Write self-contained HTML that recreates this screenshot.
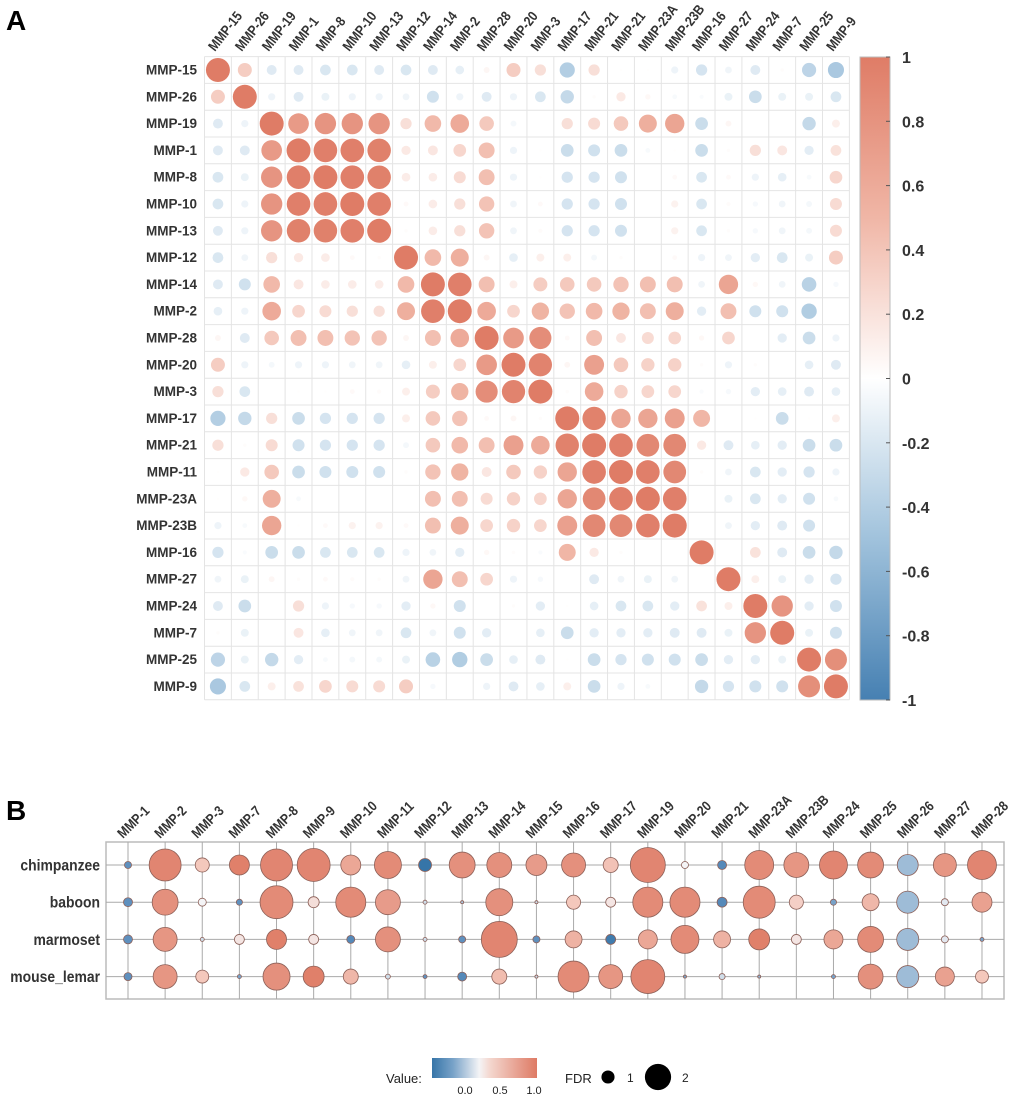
<!DOCTYPE html>
<html><head><meta charset="utf-8"><style>
body{margin:0;background:#fff;}
svg{display:block;font-family:"Liberation Sans Narrow","Liberation Sans",sans-serif;}
</style></head><body>
<svg id="fig" width="1020" height="1098" viewBox="0 0 1020 1098" xmlns="http://www.w3.org/2000/svg">
<text x="6" y="30" font-size="28" font-weight="bold" font-family="Liberation Sans,sans-serif">A</text>
<text x="6" y="820" font-size="28" font-weight="bold" font-family="Liberation Sans,sans-serif">B</text>
<g id="pa"></g>
<g id="cb"></g>
<g id="pb"></g>
<g id="lg"></g>
</svg>
<script>
const genesA = ["MMP-15","MMP-26","MMP-19","MMP-1","MMP-8","MMP-10","MMP-13","MMP-12","MMP-14","MMP-2","MMP-28","MMP-20","MMP-3","MMP-17","MMP-21","MMP-21","MMP-23A","MMP-23B","MMP-16","MMP-27","MMP-24","MMP-7","MMP-25","MMP-9"];
const rowLabelsA = ["MMP-15","MMP-26","MMP-19","MMP-1","MMP-8","MMP-10","MMP-13","MMP-12","MMP-14","MMP-2","MMP-28","MMP-20","MMP-3","MMP-17","MMP-21","MMP-11","MMP-23A","MMP-23B","MMP-16","MMP-27","MMP-24","MMP-7","MMP-25","MMP-9"];
// upper triangle rows (values for columns i+1..23)
const upper = [
[.34,-.17,-.17,-.2,-.2,-.17,-.2,-.17,-.13,.06,.34,.22,-.4,.22,.01,.01,-.09,-.22,-.08,-.17,.02,-.35,-.45],
[-.09,-.17,-.11,-.09,-.09,-.08,-.25,-.09,-.17,-.09,-.2,-.31,.02,.15,.05,-.04,-.03,-.11,-.28,-.11,-.11,-.2],
[.74,.79,.79,.79,.22,.48,.6,.37,-.06,0,.22,.25,.37,.56,.65,-.28,.06,0,0,-.31,.11],
[.97,.97,.96,.15,.17,.28,.44,-.09,.01,-.28,-.25,-.28,-.04,.01,-.28,.02,.22,.17,-.15,.2],
[.97,.96,.13,.13,.25,.44,-.09,.01,-.22,-.22,-.25,0,.04,-.2,.04,-.09,-.13,-.04,.28],
[.97,.04,.13,.22,.41,-.08,.04,-.22,-.22,-.25,0,.09,-.2,.03,-.05,-.08,-.06,.25],
[.02,.13,.22,.41,-.08,.03,-.22,-.22,-.25,0,.09,-.2,.02,-.05,-.08,-.06,.25],
[.48,.56,.06,-.13,.11,.11,-.06,.02,0,.04,-.09,-.08,-.15,-.2,-.11,.34],
[.97,.44,.11,.34,.37,.37,.41,.44,.44,-.08,.65,.05,-.08,-.37,-.05],
[.6,.28,.52,.41,.48,.52,.44,.56,-.15,.44,-.25,-.25,-.41,0],
[.74,.85,.04,.44,.17,.25,.28,.05,.28,0,-.15,-.28,-.09],
[.94,.06,.69,.37,.31,.31,.02,-.09,.02,0,-.13,-.17],
[.02,.6,.31,.28,.28,-.03,-.05,-.15,-.13,-.17,-.13],
[.95,.65,.65,.69,.5,0,.01,-.28,.01,.11],
[.97,.9,.9,.15,-.17,-.13,-.15,-.28,-.28],
[.97,.9,.02,-.08,-.2,-.15,-.22,-.09],
[.97,0,-.11,-.2,-.15,-.25,-.04],
[0,-.08,-.15,-.17,-.25,0],
[0,.2,-.17,-.28,-.31],
[.11,-.11,-.15,-.22],
[.79,-.15,-.25],
[-.11,-.25],
[.84],
[]
];
const cbTicks = [1,0.8,0.6,0.4,0.2,0,-0.2,-0.4,-0.6,-0.8,-1];
const cbTickLabels = ["1","0.8","0.6","0.4","0.2","0","-0.2","-0.4","-0.6","-0.8","-1"];

const genesB = ["MMP-1","MMP-2","MMP-3","MMP-7","MMP-8","MMP-9","MMP-10","MMP-11","MMP-12","MMP-13","MMP-14","MMP-15","MMP-16","MMP-17","MMP-19","MMP-20","MMP-21","MMP-23A","MMP-23B","MMP-24","MMP-25","MMP-26","MMP-27","MMP-28"];
const species = ["chimpanzee","baboon","marmoset","mouse_lemar"];
const valChimp = [-.5,.9,.3,.95,.9,.9,.6,.85,-.9,.8,.8,.7,.8,.35,.9,0,-.6,.85,.75,.9,.85,-.25,.75,.9];
const fdrChimp = [.44,2,.88,1.25,2,2.06,1.25,1.69,.81,1.62,1.56,1.31,1.5,.94,2.19,.44,.56,1.81,1.56,1.75,1.62,1.31,1.44,1.81];
const valBaboon = [-.5,.8,0,-.5,.85,.15,.85,.7,-.1,-.2,.8,-.1,.3,.1,.85,.85,-.6,.85,.25,-.4,.45,-.25,-.05,.65];
const fdrBaboon = [.56,1.62,.5,.38,2.06,.69,1.88,1.56,.25,.19,1.69,.19,.88,.62,1.88,1.88,.62,2,.88,.38,1.06,1.38,.44,1.25];
const valMarmoset = [-.5,.75,-.1,.1,.95,.1,-.6,.8,-.1,-.5,.9,-.5,.5,-.8,.6,.85,.5,.95,.1,.6,.85,-.25,-.05,-.4];
const fdrMarmoset = [.56,1.5,.25,.62,1.25,.62,.5,1.56,.25,.44,2.25,.44,1.06,.62,1.19,1.75,1.06,1.31,.62,1.19,1.62,1.38,.44,.25];
const valLemur = [-.5,.75,.3,-.4,.8,.95,.45,-.1,-.5,-.6,.4,-.1,.85,.75,.9,-.4,-.1,-.3,0,-.4,.8,-.25,.65,.3];
const fdrLemur = [.5,1.5,.81,.25,1.69,1.31,.94,.31,.25,.56,.94,.19,1.94,1.5,2.12,.19,.38,.19,0,.25,1.56,1.38,1.19,.81];
const valuesB = [valChimp,valBaboon,valMarmoset,valLemur];
const fdrB = [fdrChimp,fdrBaboon,fdrMarmoset,fdrLemur];

const NS="http://www.w3.org/2000/svg";
function mk(tag,attrs,parent){const e=document.createElementNS(NS,tag);for(const k in attrs)e.setAttribute(k,attrs[k]);parent.appendChild(e);return e;}
function lerp(a,b,t){return a.map((v,i)=>Math.round(v+(b[i]-v)*t));}
function colorFrom(stops,v){v=Math.max(stops[0][0],Math.min(stops[stops.length-1][0],v));for(let i=0;i<stops.length-1;i++){if(v<=stops[i+1][0]){const t=(v-stops[i][0])/(stops[i+1][0]-stops[i][0]);const c=lerp(stops[i][1],stops[i+1][1],t);return `rgb(${c[0]},${c[1]},${c[2]})`;}}}
const stopsA=[[-1,[70,128,178]],[-0.5,[160,194,220]],[0,[255,255,255]],[0.5,[240,182,166]],[1,[223,124,102]]];
const stopsB=[[-1,[44,110,163]],[-0.5,[95,144,190]],[-0.2,[170,197,220]],[0,[244,244,246]],[0.3,[244,200,188]],[1,[222,122,100]]];

// ---- Panel A ----
const N=24, x0=204.5, y0=56.6, cw=26.87, ch=26.8;
const ax = i => x0 + (i+0.5)*cw;
const ay = i => y0 + (i+0.5)*ch;
const rA = v => 12*Math.sqrt(Math.abs(v));
const M=[];for(let i=0;i<N;i++){M.push(new Array(N).fill(0));M[i][i]=1;}
for(let i=0;i<N;i++)for(let k=0;k<upper[i].length;k++){const j=i+1+k;M[i][j]=upper[i][k];M[j][i]=upper[i][k];}
const pa=document.getElementById('pa');
for(let i=0;i<=N;i++){
  const l1=mk('line',{x1:x0,x2:x0+N*cw,y1:y0+i*ch,y2:y0+i*ch,stroke:'#e4e4e4','stroke-width':1},pa);
  
  
  const l2=mk('line',{y1:y0,y2:y0+N*ch,x1:x0+i*cw,x2:x0+i*cw,stroke:'#e4e4e4','stroke-width':1},pa);
  
  
}
for(let i=0;i<N;i++){
  const t=mk('text',{x:197,y:ay(i)+4.5,'text-anchor':'end','font-size':13.5,'font-weight':'bold',fill:'#333'},pa);
  t.textContent=rowLabelsA[i];
  
  
  const c=mk('text',{x:0,y:0,'font-size':14,'font-weight':'bold',fill:'#333',transform:`translate(${ax(i)-3},52) rotate(-52) scale(0.86,1)`},pa);
  c.textContent=genesA[i];
  
  
  for(let j=0;j<N;j++){
    const v=M[i][j];const r=rA(v);if(r<0.4)continue;
    const ci=mk('circle',{cx:ax(j),cy:ay(i),r:r,fill:colorFrom(stopsA,v)},pa);
    
    
  }
}
// colorbar
const cb=document.getElementById('cb');
const cbx=860,cbw=30,cby0=57,cby1=700;
const cbY = v => cby0 + (1-v)/2*(cby1-cby0);
const defs=mk('defs',{},cb);
const g=mk('linearGradient',{id:'gA',x1:0,y1:0,x2:0,y2:1},defs);
[[0,1],[0.25,0.5],[0.5,0],[0.75,-0.5],[1,-1]].forEach(s=>mk('stop',{offset:s[0],'stop-color':colorFrom(stopsA,s[1])},g));
const cr=mk('rect',{x:cbx,y:cby0,width:cbw,height:cby1-cby0,fill:'url(#gA)',stroke:'#bbb','stroke-width':1},cb);


cbTicks.forEach((v,k)=>{
  const tl=mk('line',{x1:cbx+cbw-4,x2:cbx+cbw,y1:cbY(v),y2:cbY(v),stroke:'#555'},cb);
  
  
  const t=mk('text',{x:902,y:cbY(v)+6,'font-size':16,'font-weight':'bold',fill:'#333'},cb);
  t.textContent=cbTickLabels[k];
  
  
});

// ---- Panel B ----
const pb=document.getElementById('pb');
const bx0=106,bx1=1004,by0=842,by1=999;
const bxc=j=>128+j*37.13;
const byc=i=>865+i*37.2;
const rB=f=>8*f;
const box=mk('rect',{x:bx0,y:by0,width:bx1-bx0,height:by1-by0,fill:'none',stroke:'#bbb','stroke-width':1.5},pb);


genesB.forEach((gname,j)=>{
  const l=mk('line',{x1:bxc(j),x2:bxc(j),y1:by0,y2:by1,stroke:'#aaa','stroke-width':1},pb);
  
  
  const t=mk('text',{x:0,y:0,'font-size':14,'font-weight':'bold',fill:'#333',transform:`translate(${bxc(j)-5},839) rotate(-45) scale(0.86,1)`},pb);
  t.textContent=gname;
  
  
});
species.forEach((s,i)=>{
  const l=mk('line',{x1:bx0,x2:bx1,y1:byc(i),y2:byc(i),stroke:'#aaa','stroke-width':1},pb);
  
  
  const t=mk('text',{x:0,y:0,'text-anchor':'end','font-size':16,'font-weight':'bold',fill:'#333',transform:`translate(100,${byc(i)+5.5}) scale(0.87,1)`},pb);
  t.textContent=s;
  
  
  genesB.forEach((gname,j)=>{
    const r=rB(fdrB[i][j]);if(r<0.5)return;
    const c=mk('circle',{cx:bxc(j),cy:byc(i),r:r,fill:colorFrom(stopsB,valuesB[i][j]),stroke:'#8c6058','stroke-width':0.8},pb);
    
    
  });
});

// legend
const lg=document.getElementById('lg');
const lt=mk('text',{x:386,y:1083,'font-size':13,fill:'#222','font-family':'Liberation Sans,sans-serif'},lg);
lt.textContent='Value:';


const g2=mk('linearGradient',{id:'gB',x1:0,y1:0,x2:1,y2:0},defs);
[[0,-0.9],[0.2,-0.4],[0.45,0],[0.55,0.2],[1,1]].forEach(s=>mk('stop',{offset:s[0],'stop-color':colorFrom(stopsB,s[1])},g2));
const lr=mk('rect',{x:432,y:1058,width:105,height:20,fill:'url(#gB)'},lg);


[["0.0",465],["0.5",500],["1.0",534]].forEach(p=>{
  const t=mk('text',{x:p[1],y:1094,'font-size':11,'text-anchor':'middle',fill:'#222','font-family':'Liberation Sans,sans-serif'},lg);
  t.textContent=p[0];
  
  
});
const ft=mk('text',{x:565,y:1083,'font-size':13,fill:'#222','font-family':'Liberation Sans,sans-serif'},lg);
ft.textContent='FDR';


[[1,608,627],[2,658,682]].forEach(p=>{
  const c=mk('circle',{cx:p[1],cy:1077,r:rB(p[0])*0.82,fill:'#000'},lg);
  
  
  const t=mk('text',{x:p[2],y:1082,'font-size':12,fill:'#222','font-family':'Liberation Sans,sans-serif'},lg);
  t.textContent=String(p[0]);
  
  
});
</script>
</body></html>
